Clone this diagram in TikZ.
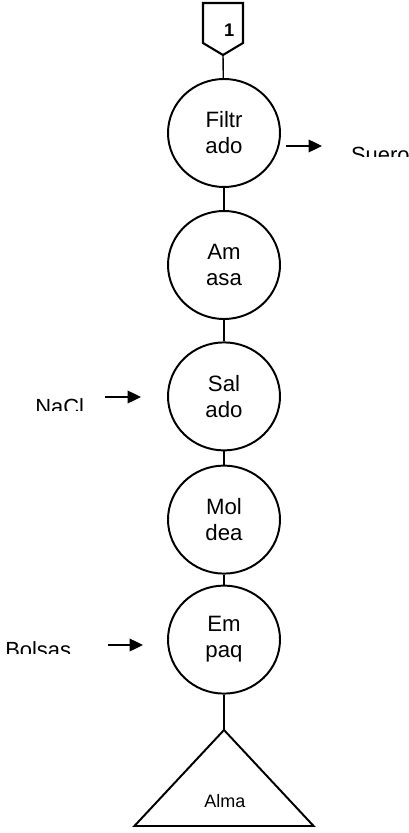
\documentclass[tikz,border=0pt]{standalone}
\usepackage{fontspec}
\setmainfont{Liberation Sans}
\usetikzlibrary{shapes.geometric}
\usetikzlibrary{arrows.meta}
\pgfdeclarelayer{edgelayer}
\pgfdeclarelayer{nodelayer}
\pgfsetlayers{edgelayer,nodelayer,main}
\tikzstyle{none}=[inner sep=0pt]
\tikzstyle{operation}=[ellipse,draw=black,line width=1.4pt,fill=white,minimum width=2.8cm,minimum height=2.7cm,inner sep=0pt,align=center,font=\fontsize{15.8}{18.5}\selectfont]
\tikzstyle{side_label}=[inner sep=0pt,anchor=base west,font=\fontsize{15.6}{18.5}\selectfont]
\tikzstyle{link}=[draw=black,line width=1pt]
\tikzstyle{flow}=[-{Triangle[length=9.5pt,width=9pt]},draw=black,line width=1pt]

\begin{document}
\begin{tikzpicture}
	\useasboundingbox (0, 0) rectangle (10.225, -20.825);
	\begin{pgfonlayer}{nodelayer}
		% off-page connector
		\draw [line width=1.5pt, fill=white] (5.075, -0.075) -- (6.075, -0.075) -- (6.075, -1.075) -- (5.575, -1.375) -- (5.075, -1.075) -- cycle;
		\coordinate (c) at (5.575, -1.375);
		\node [style=none, font=\bfseries\fontsize{13}{14}\selectfont] (n1) at (5.73, -0.76) {1};
		\node [style=operation] (0) at (5.6, -3.325) {Filtr\\ado};
		\node [style=operation] (1) at (5.6, -6.625) {Am\\asa};
		\node [style=operation] (2) at (5.6, -9.91) {Sal\\ado};
		\node [style=operation] (3) at (5.6, -12.99) {Mol\\dea};
		\node [style=operation] (4) at (5.6, -15.99) {Em\\paq};
		% storage
		\coordinate (t) at (5.6, -18.25);
		\draw [line width=1.4pt, fill=white] (t) -- (7.84, -20.65) -- (3.36, -20.65) -- cycle;
		\node [style=none, font=\fontsize{12.8}{15}\selectfont] (5) at (5.62, -20.03) {Alma};
		% inputs and outputs, cut off at the bottom
		\begin{scope}
			\clip (8.6, -3.5) rectangle (10.225, -3.925);
			\node [style=side_label] (6) at (8.77, -4.075) {Suero};
		\end{scope}
		\begin{scope}
			\clip (0, -9.8) rectangle (2.4, -10.25);
			\node [style=side_label] (7) at (0.875, -10.35) {NaCl};
		\end{scope}
		\begin{scope}
			\clip (0, -15.9) rectangle (2.4, -16.33);
			\node [style=side_label] (8) at (0.125, -16.43) {Bolsas};
		\end{scope}
		\coordinate (a0) at (7.15, -3.65);
		\coordinate (a1) at (8.05, -3.65);
		\coordinate (b0) at (2.625, -9.925);
		\coordinate (b1) at (3.525, -9.925);
		\coordinate (d0) at (2.7, -16.125);
		\coordinate (d1) at (3.575, -16.125);
	\end{pgfonlayer}
	\begin{pgfonlayer}{edgelayer}
		\draw [style=link] (c) to (0);
		\draw [style=link] (0) to (1);
		\draw [style=link] (1) to (2);
		\draw [style=link] (2) to (3);
		\draw [style=link] (3) to (4);
		\draw [style=link] (4) to (t);
		\draw [style=flow] (a0) to (a1);
		\draw [style=flow] (b0) to (b1);
		\draw [style=flow] (d0) to (d1);
	\end{pgfonlayer}
\end{tikzpicture}
\end{document}
